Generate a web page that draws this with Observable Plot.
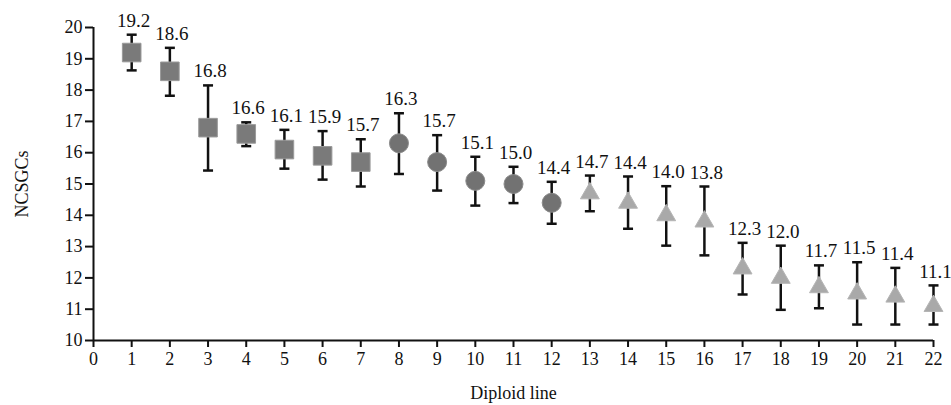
<!DOCTYPE html>
<html>
<head>
<meta charset="utf-8">
<script src="https://cdn.jsdelivr.net/npm/d3@7"></script>
<script src="https://cdn.jsdelivr.net/npm/@observablehq/plot@0.6"></script>
<style>
  html, body { margin: 0; padding: 0; background: #fff; }
  #chart svg { display: block; }
</style>
</head>
<body>
<div id="chart"></div>
<script>
// Diploid lines 1..22
const lines = [1,2,3,4,5,6,7,8,9,10,11,12,13,14,15,16,17,18,19,20,21,22];
// Mean NCSGCs
const means = [19.2,18.6,16.8,16.6,16.1,15.9,15.7,16.3,15.7,15.1,15.0,14.4,14.7,14.4,14.0,13.8,12.3,12.0,11.7,11.5,11.4,11.1];
// Upper / lower error bar ends
const uppers = [19.77,19.35,18.15,16.97,16.73,16.69,16.43,17.26,16.56,15.87,15.55,15.07,15.27,15.24,14.93,14.92,13.12,13.03,12.40,12.50,12.32,11.76];
const lowers = [18.63,17.82,15.43,16.21,15.49,15.14,14.92,15.32,14.79,14.31,14.39,13.73,14.13,13.57,13.03,12.72,11.47,10.98,11.03,10.51,10.51,10.51];
// Marker group
const groups = ["square","square","square","square","square","square","square","circle","circle","circle","circle","circle","triangle","triangle","triangle","triangle","triangle","triangle","triangle","triangle","triangle","triangle"];
const labels = ["19.2","18.6","16.8","16.6","16.1","15.9","15.7","16.3","15.7","15.1","15.0","14.4","14.7","14.4","14.0","13.8","12.3","12.0","11.7","11.5","11.4","11.1"];
const xTicks = d3.range(0, 23);
const yTicks = d3.range(10, 21);

const data = lines.map((l, i) => ({line: l, mean: means[i], upper: uppers[i], lower: lowers[i], group: groups[i], label: labels[i]}));

const cap = { draw(ctx) { ctx.moveTo(-5, 0); ctx.lineTo(5, 0); } };
const font = "'Liberation Serif', 'Times New Roman', serif";

const chart = Plot.plot({
  width: 951,
  height: 405,
  marginLeft: 93,
  marginRight: 18,
  marginTop: 27,
  marginBottom: 65,
  style: { fontFamily: font, fontSize: "18px", color: "#111", background: "#fff" },
  x: { domain: [0, 22] },
  y: { domain: [10, 20] },
  marks: [
    Plot.axisY({ ticks: yTicks, tickSize: 8, tickPadding: 3, strokeWidth: 2, label: "NCSGCs", labelAnchor: "center", labelArrow: "none", labelOffset: 78, fontSize: 18, stroke: "#111" }),
    Plot.axisX({ ticks: xTicks, tickSize: 7, tickPadding: 5, strokeWidth: 2, label: null, fontSize: 18, stroke: "#111" }),
    Plot.ruleX([0], { y1: 10, y2: 20, stroke: "#111", strokeWidth: 2 }),
    Plot.ruleY([10], { x1: 0, x2: 22, stroke: "#111", strokeWidth: 2 }),
    Plot.ruleX(data, { x: "line", y1: "lower", y2: "upper", stroke: "#111", strokeWidth: 2.5 }),
    Plot.dot(data, { x: "line", y: "upper", symbol: () => cap, r: 5, stroke: "#111", strokeWidth: 2.5, fill: "none" }),
    Plot.dot(data, { x: "line", y: "lower", symbol: () => cap, r: 5, stroke: "#111", strokeWidth: 2.5, fill: "none" }),
    Plot.dot(data.filter(d => d.group === "square"), { x: "line", y: "mean", symbol: "square", r: 10.5, fill: "#7a7a7a", stroke: "#9a9a9a", strokeWidth: 1 }),
    Plot.dot(data.filter(d => d.group === "circle"), { x: "line", y: "mean", symbol: "circle", r: 9.5, fill: "#727272", stroke: "#8a8a8a", strokeWidth: 1 }),
    Plot.dot(data.filter(d => d.group === "triangle"), { x: "line", y: "mean", symbol: "triangle", r: 7, fill: "#a9a9a9", stroke: "#b5b5b5", strokeWidth: 1 }),
    Plot.text(data, { x: "line", y: "upper", text: "label", dy: -14, dx: 2, fontSize: 19, fill: "#111" }),
    Plot.text(["Diploid line"], { frameAnchor: "top", lineAnchor: "middle", dy: 366, fontSize: 18, fill: "#111" })
  ]
});
document.getElementById("chart").appendChild(chart);
</script>
</body>
</html>
